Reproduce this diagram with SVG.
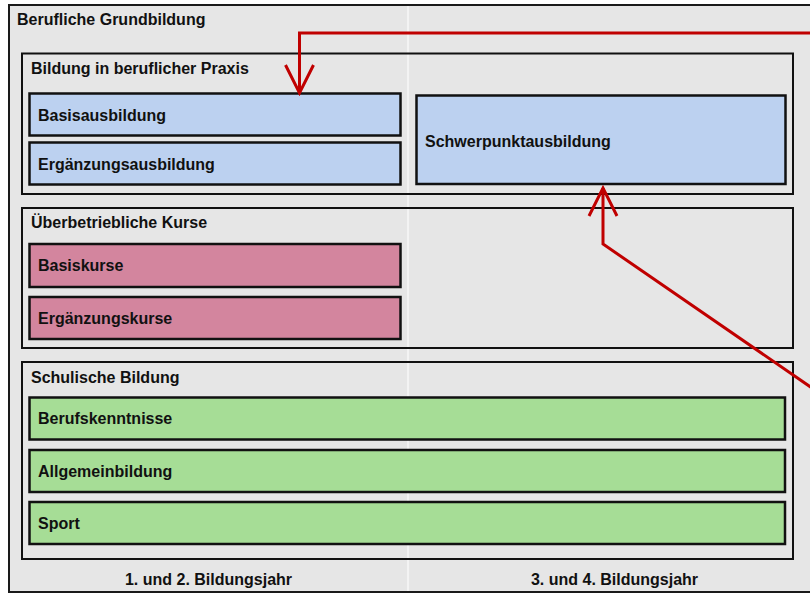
<svg xmlns="http://www.w3.org/2000/svg" width="810" height="593" viewBox="0 0 810 593">
<defs>
<style>
text{font-family:"Liberation Sans",Arial,sans-serif;font-weight:bold;font-size:16px;fill:#111;}
.sec{fill:none;stroke:#111;stroke-width:2;}
.node{stroke:#111;stroke-width:2.5;}
.blue{fill:#bcd1f0;}
.pink{fill:#d3859e;}
.green{fill:#a6dd96;}
.conn{fill:none;stroke:#c00000;stroke-width:3;}
.mid{text-anchor:middle;}
</style>
<marker id="openArrow" markerUnits="userSpaceOnUse" markerWidth="36" markerHeight="36" viewBox="-32 -18 36 36" refX="0" refY="0" orient="auto">
<path d="M-28,-14 L0,0 L-28,14" fill="none" stroke="#c00000" stroke-width="3"/>
</marker>
</defs>
<rect width="810" height="593" fill="#ffffff"/>
<g id="outer">
<rect x="9" y="5" width="850" height="587" fill="#e6e6e6" stroke="#1a1a1a" stroke-width="2"/>
<line x1="408" y1="6" x2="408" y2="591" stroke="#f7f7f7" stroke-width="1.5"/>
<text x="17" y="25">Berufliche Grundbildung</text>
<text class="mid" x="208.5" y="585">1. und 2. Bildungsjahr</text>
<text class="mid" x="614.5" y="585">3. und 4. Bildungsjahr</text>
</g>
<g id="praxis">
<rect class="sec" x="22" y="53.5" width="771" height="140.5"/>
<text x="31" y="74">Bildung in beruflicher Praxis</text>
</g>
<g id="basisausbildung">
<rect class="node blue" x="29.5" y="93.5" width="371" height="42"/>
<text x="38" y="120.5">Basisausbildung</text>
</g>
<g id="ergaenzungsausbildung">
<rect class="node blue" x="29.5" y="142.5" width="371" height="42"/>
<text x="38" y="169.5">Ergänzungsausbildung</text>
</g>
<g id="schwerpunktausbildung">
<rect class="node blue" x="416.5" y="95.5" width="369" height="88.5"/>
<text x="425" y="146.5">Schwerpunktausbildung</text>
</g>
<g id="kurse">
<rect class="sec" x="22" y="208" width="771" height="140"/>
<text x="31" y="227.5">Überbetriebliche Kurse</text>
</g>
<g id="basiskurse">
<rect class="node pink" x="29.5" y="244" width="371" height="43"/>
<text x="38" y="271">Basiskurse</text>
</g>
<g id="ergaenzungskurse">
<rect class="node pink" x="29.5" y="297" width="371" height="42"/>
<text x="38" y="323.5">Ergänzungskurse</text>
</g>
<g id="schulisch">
<rect class="sec" x="22" y="362" width="771" height="197"/>
<text x="31" y="382.5">Schulische Bildung</text>
</g>
<g id="berufskenntnisse">
<rect class="node green" x="29.5" y="397.5" width="755.5" height="42"/>
<text x="38" y="423.5">Berufskenntnisse</text>
</g>
<g id="allgemeinbildung">
<rect class="node green" x="29.5" y="450" width="755.5" height="42"/>
<text x="38" y="476.5">Allgemeinbildung</text>
</g>
<g id="sport">
<rect class="node green" x="29.5" y="502" width="755.5" height="42"/>
<text x="38" y="529">Sport</text>
</g>
<g id="connectors">
<path class="conn" d="M812,33 L299.5,33 L299.5,93" marker-end="url(#openArrow)"/>
<path class="conn" d="M812,388 L603,244 L603,188" marker-end="url(#openArrow)"/>
</g>
</svg>
